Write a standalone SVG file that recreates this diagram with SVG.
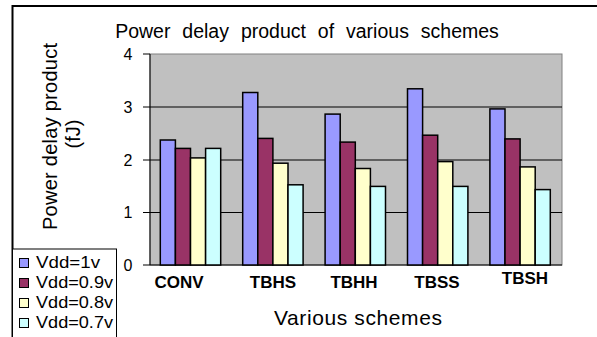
<svg xmlns="http://www.w3.org/2000/svg" width="597" height="337" viewBox="0 0 597 337">
<style>
text{font-family:"Liberation Sans",Arial,sans-serif;fill:#000}
.bar{stroke:#000;stroke-width:1.5}
.s1{fill:#9999FF}.s2{fill:#993366}.s3{fill:#FFFFCC}.s4{fill:#CCFFFF}
.grid{stroke:#000;stroke-width:1}
.tick{font-size:16px;text-anchor:middle}
.cat{font-size:17px;font-weight:bold;text-anchor:middle}
.leg{font-size:17px}
</style>
<rect x="0" y="0" width="597" height="337" fill="#fff"/>
<g id="frame">
<path d="M12.5 337 V6 H597" fill="none" stroke="#000" stroke-width="2"/>
</g>
<text id="title" x="307" y="38" font-size="19.5" text-anchor="middle" word-spacing="6.5">Power delay product of various schemes</text>
<g id="plot">
<rect x="150" y="54" width="412" height="211" fill="#C0C0C0" stroke="#808080" stroke-width="1"/>
<line class="grid" x1="143" y1="107" x2="562" y2="107"/>
<line class="grid" x1="143" y1="160" x2="562" y2="160"/>
<line class="grid" x1="143" y1="212.5" x2="562" y2="212.5"/>
<line class="grid" x1="143" y1="54" x2="150" y2="54"/>
<line class="grid" x1="150" y1="54" x2="150" y2="265"/>
<line class="grid" x1="143" y1="265" x2="562" y2="265"/>
</g>
<g id="yticks">
<text class="tick" x="128" y="59.5">4</text>
<text class="tick" x="128" y="112.5">3</text>
<text class="tick" x="128" y="165.5">2</text>
<text class="tick" x="128" y="218">1</text>
<text class="tick" x="128" y="270.5">0</text>
</g>
<g id="bars">
<g id="CONV">
<rect class="bar s1" x="160.3" y="140.0" width="15.1" height="125.0"/>
<rect class="bar s2" x="175.4" y="148.4" width="15.1" height="116.6"/>
<rect class="bar s3" x="190.5" y="157.9" width="15.1" height="107.1"/>
<rect class="bar s4" x="205.6" y="148.4" width="15.1" height="116.6"/>
</g>
<g id="TBHS">
<rect class="bar s1" x="242.7" y="92.5" width="15.1" height="172.5"/>
<rect class="bar s2" x="257.8" y="138.4" width="15.1" height="126.6"/>
<rect class="bar s3" x="272.9" y="163.2" width="15.1" height="101.8"/>
<rect class="bar s4" x="288.0" y="184.8" width="15.1" height="80.2"/>
</g>
<g id="TBHH">
<rect class="bar s1" x="325.1" y="114.1" width="15.1" height="150.9"/>
<rect class="bar s2" x="340.2" y="142.1" width="15.1" height="122.9"/>
<rect class="bar s3" x="355.3" y="168.5" width="15.1" height="96.5"/>
<rect class="bar s4" x="370.4" y="186.4" width="15.1" height="78.6"/>
</g>
<g id="TBSS">
<rect class="bar s1" x="407.5" y="88.8" width="15.1" height="176.2"/>
<rect class="bar s2" x="422.6" y="135.2" width="15.1" height="129.8"/>
<rect class="bar s3" x="437.7" y="161.6" width="15.1" height="103.4"/>
<rect class="bar s4" x="452.8" y="186.4" width="15.1" height="78.6"/>
</g>
<g id="TBSH">
<rect class="bar s1" x="489.9" y="108.9" width="15.1" height="156.1"/>
<rect class="bar s2" x="505.0" y="138.9" width="15.1" height="126.1"/>
<rect class="bar s3" x="520.1" y="166.9" width="15.1" height="98.1"/>
<rect class="bar s4" x="535.2" y="189.6" width="15.1" height="75.4"/>
</g>
</g>
<g id="categories">
<text class="cat" x="179" y="288">CONV</text>
<text class="cat" x="273" y="288">TBHS</text>
<text class="cat" x="354" y="288">TBHH</text>
<text class="cat" x="437" y="288">TBSS</text>
<text class="cat" x="525" y="284">TBSH</text>
</g>
<text id="xtitle" x="358" y="325" font-size="21" text-anchor="middle" textLength="168" lengthAdjust="spacing">Various schemes</text>
<g id="ytitle" font-size="20" text-anchor="middle">
<text transform="translate(56.5,136.5) rotate(-90)" x="0" y="0" textLength="187" lengthAdjust="spacing">Power delay product</text>
<text transform="translate(80,134) rotate(-90)" x="0" y="0">(fJ)</text>
</g>
<g id="legend">
<rect x="12.5" y="249" width="104" height="100" fill="#fff" stroke="#000" stroke-width="1"/>
<rect class="s1" x="19.5" y="258.5" width="9" height="9" stroke="#000" stroke-width="1"/>
<rect class="s2" x="19.5" y="278.5" width="9" height="9" stroke="#000" stroke-width="1"/>
<rect class="s3" x="19.5" y="298.5" width="9" height="9" stroke="#000" stroke-width="1"/>
<rect class="s4" x="19.5" y="318.5" width="9" height="9" stroke="#000" stroke-width="1"/>
<text class="leg" x="36" y="267.5" textLength="64" lengthAdjust="spacingAndGlyphs">Vdd=1v</text>
<text class="leg" x="36" y="287.5" textLength="77" lengthAdjust="spacingAndGlyphs">Vdd=0.9v</text>
<text class="leg" x="36" y="307.5" textLength="77" lengthAdjust="spacingAndGlyphs">Vdd=0.8v</text>
<text class="leg" x="36" y="327.5" textLength="77" lengthAdjust="spacingAndGlyphs">Vdd=0.7v</text>
</g>
</svg>
